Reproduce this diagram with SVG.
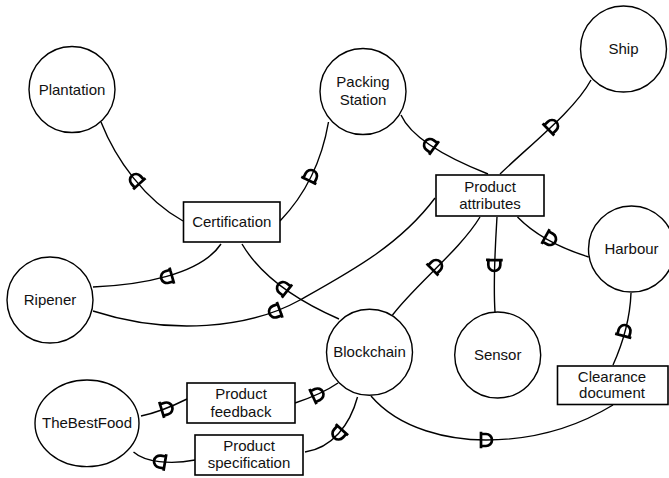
<svg xmlns="http://www.w3.org/2000/svg" xmlns:xlink="http://www.w3.org/1999/xlink" width="669" height="478" viewBox="0 0 669 478">
  <style>
    .actor { fill: #fff; stroke: #000; stroke-width: 1.4; }
    .res { fill: #fff; stroke: #000; stroke-width: 1.6; }
    .lbl { font-family: "Liberation Sans", Arial, sans-serif; font-size: 15px; fill: #111; text-anchor: middle; }
    .link { fill: none; stroke: #000; stroke-width: 1.4; }
    .dep { fill: none; stroke: #000; stroke-width: 2.7; stroke-linejoin: round; stroke-linecap: square; }
  </style>
  <defs>
    <!-- dependency "D": flat side across the link, bulge pointing along +x -->
    <path id="d" class="dep" d="M-5,-7 V7 M-5,-6 H0 A6,6 0 0 1 0,6 H-5"/>
  </defs>

  <g id="connectors">
    <path class="link" d="M101,122 C116,160 145,200 183,221"/>
    <path class="link" d="M328.5,122 C322,160 305,195 280,221"/>
    <path class="link" d="M93,287 C140,285 200,275 221,244"/>
    <path class="link" d="M242,244 C262,278 300,302 339,319"/>
    <path class="link" d="M93,311 C170,336 250,328 300,300 C350,272 400,245 435,198"/>
    <path class="link" d="M401,115 C410,135 440,155 488,174"/>
    <path class="link" d="M591,80 C575,110 530,145 500,174"/>
    <path class="link" d="M480,217 C460,250 415,285 392.5,315"/>
    <path class="link" d="M497,217 C495,250 493,280 495,312"/>
    <path class="link" d="M517.5,217 C535,235 560,248 588.7,257"/>
    <path class="link" d="M631,293 C630,320 622,345 613,365"/>
    <path class="link" d="M371,396 C400,430 450,440 486,440 C540,440 580,425 613,405"/>
    <path class="link" d="M141,416 C160,412 175,405 187,399"/>
    <path class="link" d="M295,403 C310,398 325,392 338,383"/>
    <path class="link" d="M133.5,452 C145,462 170,465 195,460"/>
    <path class="link" d="M305,452 C332,448 350,425 357.5,397"/>

    <use xlink:href="#d" href="#d" transform="translate(136,180) rotate(228)"/>
    <use xlink:href="#d" href="#d" transform="translate(311,176) rotate(296)"/>
    <use xlink:href="#d" href="#d" transform="translate(167,277) rotate(164)"/>
    <use xlink:href="#d" href="#d" transform="translate(283,288) rotate(218)"/>
    <use xlink:href="#d" href="#d" transform="translate(275,311.5) rotate(160)"/>
    <use xlink:href="#d" href="#d" transform="translate(430,145) rotate(216)"/>
    <use xlink:href="#d" href="#d" transform="translate(552,126) rotate(316)"/>
    <use xlink:href="#d" href="#d" transform="translate(436,266) rotate(315)"/>
    <use xlink:href="#d" href="#d" transform="translate(494.3,265) rotate(91)"/>
    <use xlink:href="#d" href="#d" transform="translate(550,239) rotate(29)"/>
    <use xlink:href="#d" href="#d" transform="translate(624.5,331) rotate(285)"/>
    <use xlink:href="#d" href="#d" transform="translate(486,440) rotate(0)"/>
    <use xlink:href="#d" href="#d" transform="translate(166.5,408.5) rotate(-17)"/>
    <use xlink:href="#d" href="#d" transform="translate(317.5,394.5) rotate(-25)"/>
    <use xlink:href="#d" href="#d" transform="translate(160,461.6) rotate(189.5)"/>
    <use xlink:href="#d" href="#d" transform="translate(338.5,433.5) rotate(132)"/>
  </g>

  <g id="plantation">
    <circle class="actor" cx="72" cy="89.5" r="43"/>
    <text class="lbl" x="72" y="94.5">Plantation</text>
  </g>
  <g id="packing-station">
    <circle class="actor" cx="363" cy="91.5" r="43"/>
    <text class="lbl" x="363" y="87">Packing</text>
    <text class="lbl" x="363" y="105">Station</text>
  </g>
  <g id="ship">
    <circle class="actor" cx="623.5" cy="49" r="43"/>
    <text class="lbl" x="623.5" y="54">Ship</text>
  </g>
  <g id="ripener">
    <circle class="actor" cx="50" cy="300" r="43"/>
    <text class="lbl" x="50" y="305">Ripener</text>
  </g>
  <g id="blockchain">
    <circle class="actor" cx="369.5" cy="352.3" r="43"/>
    <text class="lbl" x="369.5" y="357.3">Blockchain</text>
  </g>
  <g id="sensor">
    <circle class="actor" cx="497.7" cy="355" r="43"/>
    <text class="lbl" x="497.7" y="360">Sensor</text>
  </g>
  <g id="harbour">
    <circle class="actor" cx="631.5" cy="249" r="43"/>
    <text class="lbl" x="631.5" y="254">Harbour</text>
  </g>
  <g id="thebestfood">
    <ellipse class="actor" cx="87" cy="423.3" rx="52" ry="43.3"/>
    <text class="lbl" x="87" y="428.3">TheBestFood</text>
  </g>

  <g id="certification">
    <rect class="res" x="183.5" y="202" width="96.5" height="40"/>
    <text class="lbl" x="231.75" y="227.3">Certification</text>
  </g>
  <g id="product-attributes">
    <rect class="res" x="436" y="175" width="108" height="41"/>
    <text class="lbl" x="490" y="191.7">Product</text>
    <text class="lbl" x="490" y="209.3">attributes</text>
  </g>
  <g id="product-feedback">
    <rect class="res" x="187" y="383" width="108" height="40"/>
    <text class="lbl" x="241" y="398.5">Product</text>
    <text class="lbl" x="241" y="416.5">feedback</text>
  </g>
  <g id="product-specification">
    <rect class="res" x="195" y="435" width="108" height="40"/>
    <text class="lbl" x="249" y="450.7">Product</text>
    <text class="lbl" x="249" y="468.3">specification</text>
  </g>
  <g id="clearance-document">
    <rect class="res" x="557.5" y="366" width="110.5" height="38.5"/>
    <text class="lbl" x="612" y="381.7">Clearance</text>
    <text class="lbl" x="612" y="398.3">document</text>
  </g>
</svg>
